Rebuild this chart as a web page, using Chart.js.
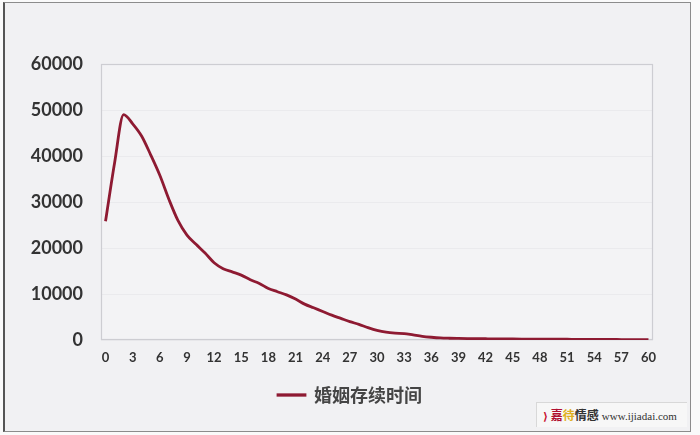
<!DOCTYPE html>
<html>
<head>
<meta charset="utf-8">
<script src="https://cdn.jsdelivr.net/npm/chart.js@4"></script>
<style>
  html,body{margin:0;padding:0;background:#fafafa;width:700px;height:435px;overflow:hidden;}
  #frame{position:absolute;left:3px;top:2px;width:688px;height:430px;box-sizing:border-box;border:1px solid #8c8c8c;border-left:2px solid #555;background:#f1f1f3;}
  #wrap{position:absolute;left:0;top:0;width:700px;height:435px;}
  #wm{position:absolute;left:536px;top:402px;width:150px;height:24px;background:#f7f7f7;border-top:1px solid #d8d8d8;border-left:1px solid #d8d8d8;font-size:11px;line-height:24px;color:#333;white-space:nowrap;}
  #wm .logo{font-family:"DejaVu Sans",sans-serif;font-weight:bold;color:#c8102e;margin-left:6px;}
  #wm .cn{font-family:"Noto Sans CJK SC",sans-serif;font-weight:bold;font-size:12px;}
  #wm .url{font-family:"Liberation Serif",serif;font-size:11px;margin-left:3px;}
</style>
</head>
<body>
<div id="frame"></div>
<div id="wrap"><canvas id="c" width="700" height="435"></canvas></div>
<div id="wm"><span class="logo">⟩</span> <span class="cn"><span style="color:#b01030">嘉</span><span style="color:#e0b020">待</span>情感</span><span class="url">www.ijiadai.com</span></div>
<script>
const years = ["0","1","2","3","4","5","6","7","8","9","10","11","12","13","14","15","16","17","18","19","20","21","22","23","24","25","26","27","28","29","30","31","32","33","34","35","36","37","38","39","40","41","42","43","44","45","46","47","48","49","50","51","52","53","54","55","56","57","58","59","60"];
const counts = [25800,38500,49000,47000,44300,40200,35800,30600,26000,22800,20800,18900,16800,15500,14800,14100,13100,12300,11200,10500,9800,8900,7800,7000,6200,5400,4700,4000,3400,2700,2100,1700,1500,1400,1100,800,600,450,380,340,310,290,270,250,240,220,210,200,190,180,170,160,150,140,130,120,110,100,90,80,70];
const seriesName = "婚姻存续时间";
const yTicks = [0,10000,20000,30000,40000,50000,60000];

const plotBox = {
  id: 'plotBox',
  beforeDraw(chart){
    const {ctx, chartArea:a} = chart;
    ctx.save();
    ctx.fillStyle = '#f3f3f5';
    ctx.fillRect(a.left, a.top, a.right-a.left, a.bottom-a.top);
    ctx.restore();
  },
  beforeDatasetsDraw(chart){
    const {ctx, chartArea:a} = chart;
    ctx.save();
    ctx.strokeStyle = '#cdcdd2';
    ctx.lineWidth = 1.2;
    ctx.strokeRect(a.left+0.5, a.top+0.5, a.right-a.left-1, a.bottom-a.top-1);
    ctx.restore();
  }
};

new Chart(document.getElementById('c'), {
  type: 'line',
  data: {
    labels: years,
    datasets: [{
      label: seriesName,
      data: counts,
      borderColor: '#8e1a32',
      backgroundColor: '#8e1a32',
      borderWidth: 2.8,
      pointRadius: 0,
      tension: 0.4,
      cubicInterpolationMode: 'monotone',
      fill: false
    }]
  },
  options: {
    responsive: false,
    animation: false,
    layout: { padding: { top: 64, left: 0, right: 0, bottom: 21 } },
    plugins: {
      tooltip: { enabled: false },
      legend: {
        display: true,
        position: 'bottom',
        labels: {
          boxWidth: 27,
          boxHeight: 0.5,
          padding: 10,
          color: '#454545',
          font: { family: '"Noto Sans CJK SC", sans-serif', size: 18, weight: 'bold' }
        }
      }
    },
    scales: {
      x: {
        type: 'category',
        offset: true,
        grid: { display: false, drawTicks: false },
        border: { display: false },
        ticks: {
          autoSkip: false,
          maxRotation: 0,
          padding: 10,
          color: '#333',
          font: { family: 'Lato, sans-serif', size: 13, weight: 'bold' },
          callback: function(val, idx){ return idx % 3 === 0 ? years[idx] : ''; }
        },
        afterFit(s){ s.height = 36; }
      },
      y: {
        min: 0,
        max: 60000,
        grid: { color: '#eaeaed', lineWidth: 1, drawTicks: false },
        border: { display: false },
        ticks: {
          stepSize: 10000,
          padding: 18,
          color: '#333',
          font: { family: 'Lato, sans-serif', size: 18, weight: 'bold' },
          callback: function(v){ return yTicks.includes(v) ? String(v) : ''; }
        },
        afterFit(s){ s.width = 101; }
      },
      yRight: {
        position: 'right',
        display: true,
        grid: { display: false, drawTicks: false },
        border: { display: false },
        ticks: { display: false },
        afterFit(s){ s.width = 47; }
      }
    }
  },
  plugins: [plotBox]
});
</script>
</body>
</html>
